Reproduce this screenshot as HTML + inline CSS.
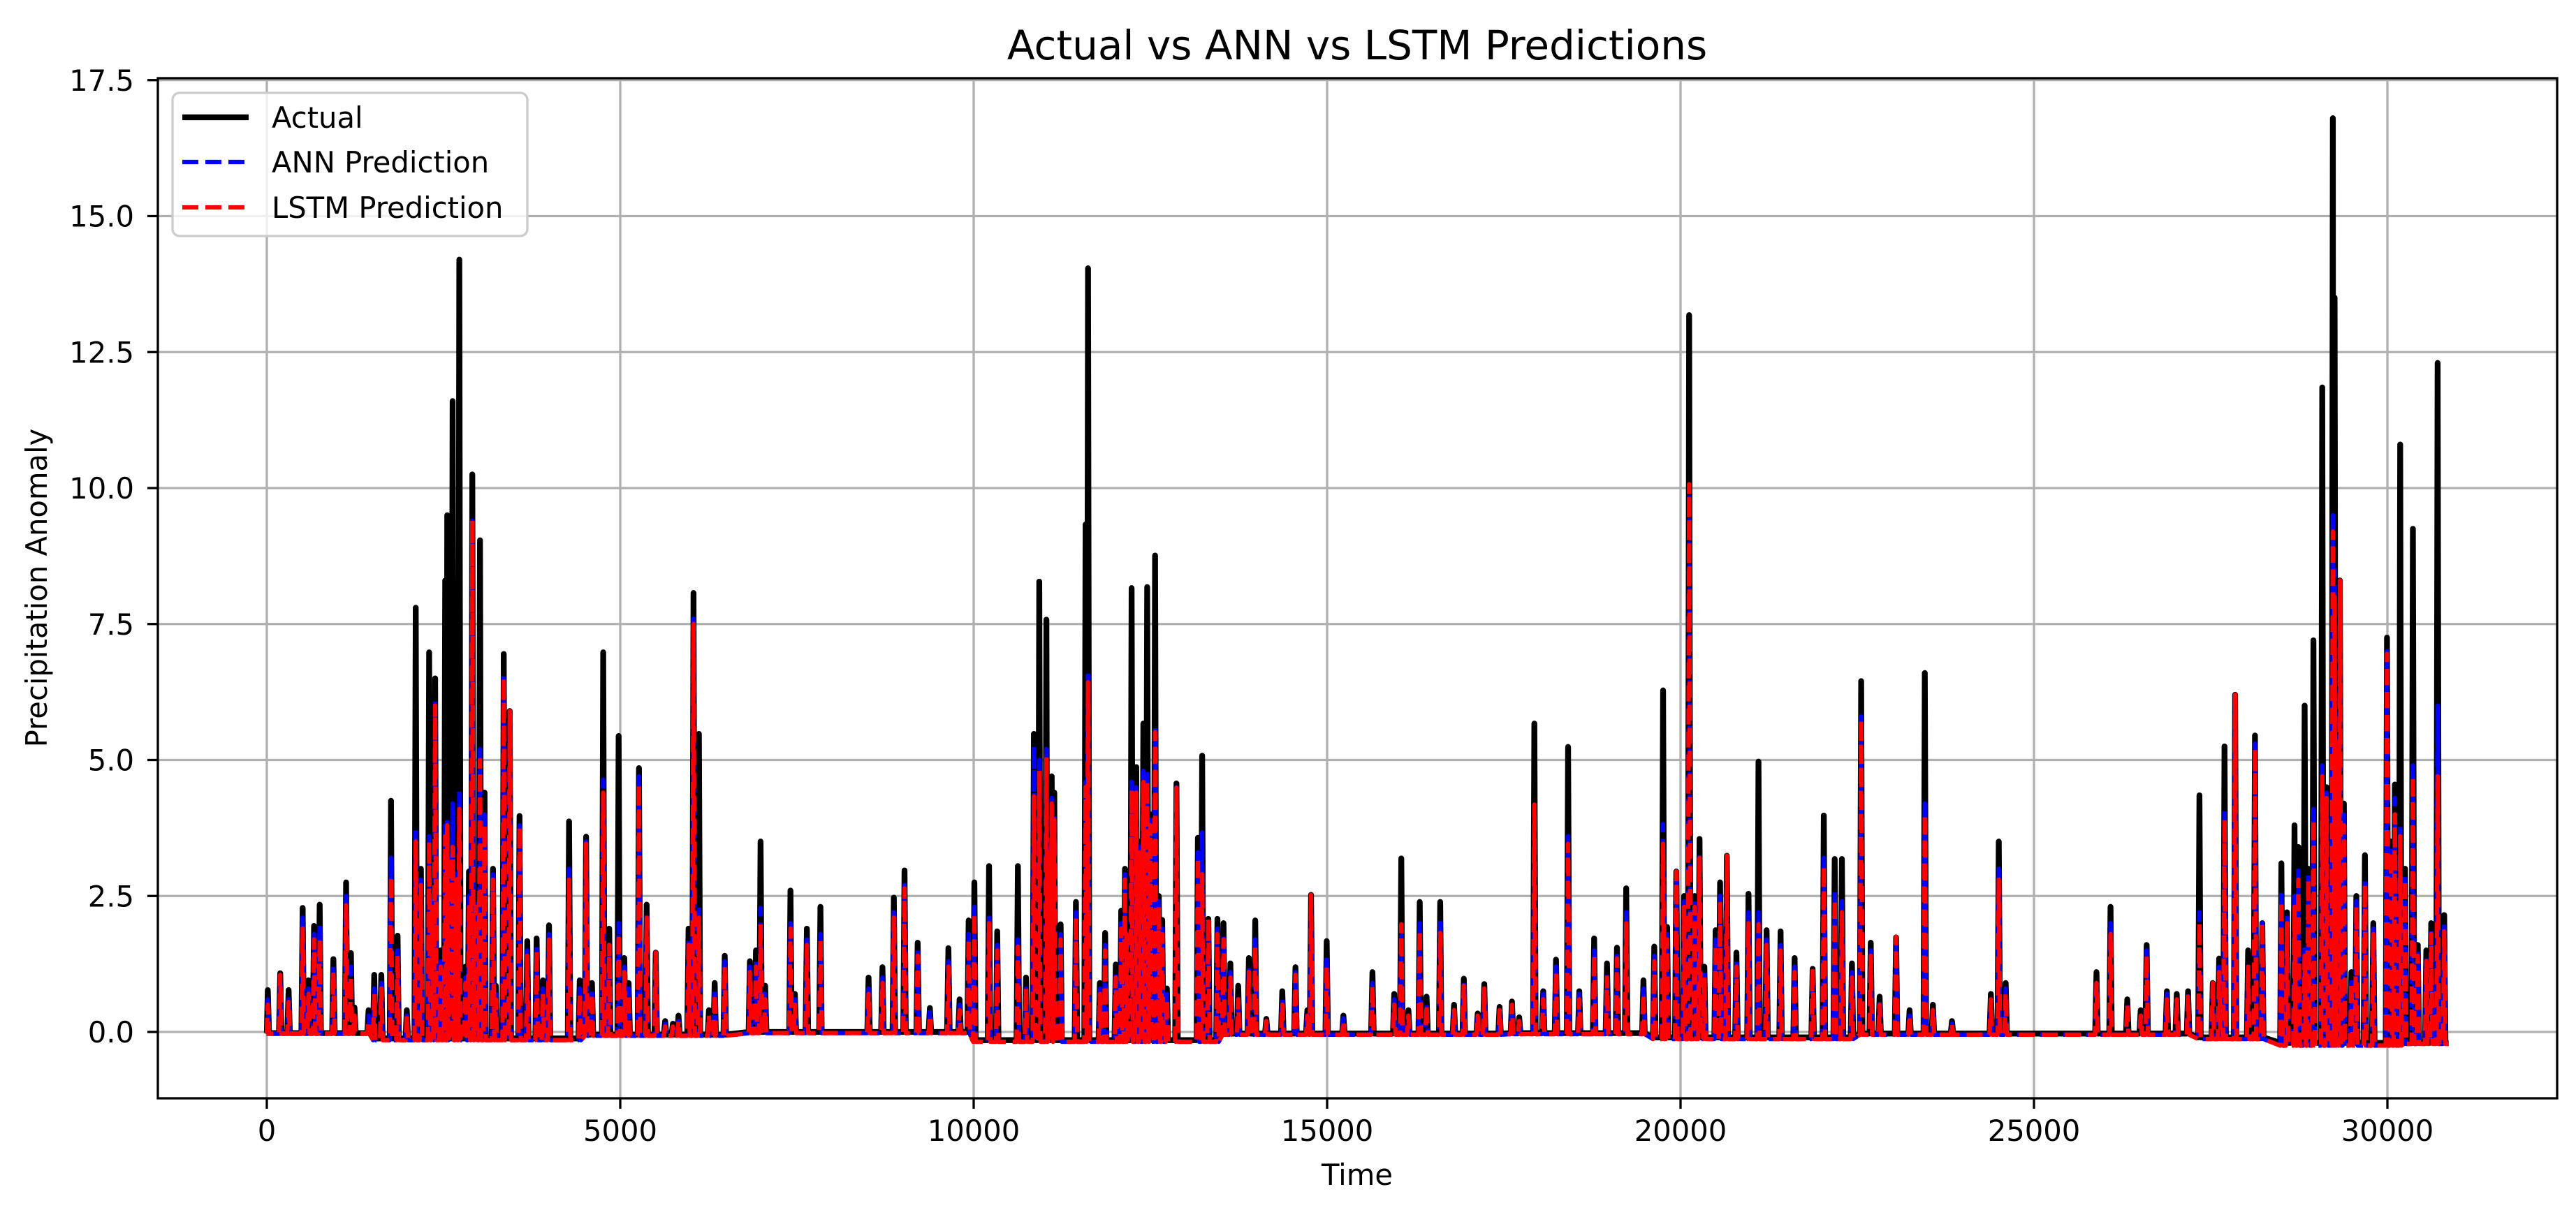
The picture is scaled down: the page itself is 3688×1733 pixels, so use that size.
<!DOCTYPE html>
<html><head><meta charset="utf-8"><style>
html,body{margin:0;padding:0;background:#fff;}
svg{display:block;font-family:"DejaVu Sans","Liberation Sans",sans-serif;}
</style></head><body>
<svg id="chart" width="3688" height="1733" viewBox="0 0 3688 1733" xmlns="http://www.w3.org/2000/svg">
<rect width="3688" height="1733" fill="#fff"/>
<defs><clipPath id="plotclip"><rect x="226" y="112" width="3435" height="1461"/></clipPath></defs>
<g id="grid"></g>
<g id="series" clip-path="url(#plotclip)"></g>
<rect x="226" y="112" width="3435" height="1461" fill="none" stroke="#000" stroke-width="3.3"/>
<g id="ticks"></g>
<text x="1943" y="85" font-size="58" text-anchor="middle">Actual vs ANN vs LSTM Predictions</text>
<text x="1943" y="1697" font-size="41.7" text-anchor="middle">Time</text>
<text x="0" y="0" font-size="41.7" text-anchor="middle" transform="translate(67,842) rotate(-90)">Precipitation Anomaly</text>
<g>
<rect x="247" y="133" width="508" height="205" rx="10" fill="#fff" fill-opacity="0.8" stroke="#ccc" stroke-width="3.3"/>
<line x1="261" y1="168" x2="356" y2="168" stroke="#000" stroke-width="8.3"/>
<text x="389" y="183" font-size="41.7">Actual</text>
<line x1="261" y1="232" x2="356" y2="232" stroke="#0000ff" stroke-width="6.25" stroke-dasharray="23 10"/>
<text x="389" y="247" font-size="41.7">ANN Prediction</text>
<line x1="261" y1="297" x2="356" y2="297" stroke="#ff0000" stroke-width="6.25" stroke-dasharray="23 10"/>
<text x="389" y="312" font-size="41.7">LSTM Prediction</text>
</g>
</svg>
<script>
// Peak events: time, actual, ANN, LSTM
const peakTimes = [14,190,308,507,590,668,748,942,1122,1190,1240,1440,1520,1620,1757,1850,1980,2107,2180,2296,2340,2381,2460,2524,2552,2580,2628,2680,2723,2810,2860,2907,2960,3016,3080,3200,3240,3352,3437,3575,3685,3817,3907,3992,4276,4427,4517,4600,4759,4844,4977,5057,5119,5265,5374,5502,5635,5744,5824,5966,6037,6113,6255,6336,6478,6834,6920,6985,7050,7408,7470,7640,7832,8513,8709,8871,9022,9208,9380,9642,9800,9929,10010,10217,10333,10625,10740,10852,10928,11029,11060,11104,11140,11230,11447,11583,11618,11785,11860,12010,12087,12140,12162,12234,12300,12350,12400,12455,12500,12566,12620,12667,12733,12869,13172,13232,13320,13449,13535,13631,13742,13893,13983,14140,14366,14552,14720,14773,14994,15230,15641,15950,16049,16150,16310,16407,16600,16795,16934,17130,17223,17440,17615,17717,17932,18057,18238,18409,18567,18778,18959,19101,19231,19475,19628,19753,19810,19940,20050,20122,20200,20269,20337,20496,20559,20655,20791,20961,21103,21217,21415,21614,21869,22027,22181,22283,22425,22555,22691,22816,23049,23240,23456,23570,23840,24390,24502,24600,25884,26083,26320,26510,26594,26880,27020,27180,27341,27530,27620,27696,27846,28030,28126,28230,28500,28580,28686,28740,28829,28880,28954,29078,29140,29228,29253,29290,29328,29384,29490,29560,29682,29800,29994,30050,30106,30181,30250,30361,30430,30550,30620,30710,30803];
const actualValues = [0.77,1.08,0.77,2.28,0.95,1.95,2.34,1.34,2.75,1.45,0.45,0.4,1.05,1.05,4.25,1.77,0.4,7.8,3.0,6.98,2.5,6.5,1.5,8.3,9.5,3.5,11.6,3.0,14.2,1.2,2.95,10.25,2.5,9.04,4.4,3.0,0.85,6.95,5.9,3.97,1.67,1.72,0.95,1.96,3.87,0.95,3.59,0.9,6.98,1.9,5.44,1.36,0.9,4.85,2.34,1.46,0.2,0.15,0.3,1.9,8.07,5.48,0.4,0.9,1.4,1.3,1.5,3.5,0.85,2.6,0.7,1.9,2.3,1.0,1.19,2.47,2.97,1.64,0.44,1.54,0.6,2.05,2.75,3.05,1.85,3.05,1.0,5.48,8.28,7.58,3.5,4.7,4.4,1.98,2.39,9.33,14.04,0.9,1.82,1.24,2.23,3.0,2.1,8.16,4.87,3.5,5.67,8.18,4.0,8.76,2.5,2.06,0.8,4.57,3.57,5.08,2.08,2.08,2.0,1.26,0.85,1.36,2.05,0.24,0.75,1.19,0.4,2.52,1.67,0.3,1.1,0.7,3.19,0.4,2.39,0.65,2.39,0.5,0.98,0.34,0.88,0.46,0.56,0.27,5.67,0.75,1.33,5.24,0.75,1.72,1.26,1.55,2.64,0.95,1.57,6.28,1.93,2.95,2.5,13.18,2.5,3.55,1.2,1.87,2.75,3.24,1.46,2.54,4.97,1.87,1.85,1.36,1.16,3.98,3.18,3.18,1.26,6.45,1.64,0.65,1.74,0.4,6.6,0.5,0.2,0.7,3.5,0.9,1.1,2.3,0.6,0.4,1.6,0.75,0.7,0.75,4.35,0.9,1.35,5.25,6.2,1.5,5.45,2.0,3.1,2.2,3.8,3.4,6.0,3.0,7.2,11.85,4.5,16.8,13.5,5.5,8.3,4.2,1.1,2.5,3.25,2.0,7.25,3.5,4.55,10.8,3.0,9.25,1.6,1.5,2.0,12.3,2.15];
const annValues = [0.6,1.0,0.6,2.1,0.8,1.8,2.0,1.2,2.5,1.2,0.3,0.3,0.8,0.9,3.2,1.5,0.3,3.77,2.8,3.6,2.4,6.1,1.3,3.8,3.9,3.3,4.2,2.9,4.45,1.0,2.5,9.4,2.4,5.2,4.0,2.9,0.7,6.6,5.9,3.8,1.5,1.6,0.8,1.8,3.0,0.8,3.5,0.8,4.64,1.7,2.0,1.2,0.8,4.7,2.2,1.4,0.15,0.1,0.2,1.7,7.6,2.3,0.3,0.8,1.3,1.2,1.3,2.28,0.7,2.0,0.6,1.7,1.8,0.8,1.0,2.2,2.7,1.5,0.4,1.3,0.5,1.8,2.3,2.1,1.6,1.7,0.8,5.25,5.0,5.2,3.4,4.3,4.0,1.8,2.2,4.6,6.6,0.8,1.6,1.1,2.0,2.9,1.9,4.6,4.5,3.4,4.8,4.8,3.9,5.6,2.4,1.9,0.7,4.5,3.3,3.67,2.0,1.9,1.8,1.1,0.7,1.2,1.7,0.2,0.6,1.1,0.35,2.5,1.4,0.25,0.9,0.6,1.77,0.3,2.0,0.5,2.08,0.4,0.9,0.3,0.8,0.4,0.5,0.2,3.82,0.7,1.2,3.6,0.7,1.5,1.1,1.4,2.2,0.8,1.4,3.82,1.8,2.8,2.4,9.9,2.4,3.3,1.1,1.7,2.5,3.2,1.3,2.2,2.2,1.7,1.6,1.2,1.1,3.2,2.6,2.4,1.1,5.8,1.5,0.6,1.7,0.3,4.2,0.4,0.15,0.6,3.0,0.8,0.9,2.0,0.5,0.3,1.5,0.7,0.6,0.7,2.2,0.9,1.2,4.1,6.2,1.3,5.3,2.0,2.6,2.1,2.5,3.0,1.6,2.9,4.1,4.9,4.4,9.5,8.5,5.3,8.3,4.0,1.0,2.4,2.8,1.9,7.0,3.4,4.3,3.8,2.9,4.9,1.5,1.4,1.9,6.0,2.0];
const lstmValues = [0.5,1.05,0.55,1.9,0.7,1.7,1.7,1.1,2.33,1.0,0.3,0.2,0.7,0.8,2.85,1.4,0.3,3.5,2.7,3.5,2.3,6.0,1.2,3.6,3.8,3.2,3.4,2.8,4.1,0.9,2.3,9.4,2.3,5.0,3.8,2.8,0.6,6.5,5.9,3.77,1.4,1.5,0.7,1.7,2.8,0.7,3.46,0.7,4.4,1.6,1.8,1.1,0.7,4.55,2.1,1.46,0.1,0.1,0.2,1.6,7.5,2.1,0.3,0.7,1.2,1.1,1.2,1.98,0.6,1.9,0.5,1.6,1.7,0.7,0.9,2.1,2.64,1.4,0.3,1.2,0.4,1.7,2.18,2.0,1.5,1.57,0.8,4.33,4.8,5.05,3.3,4.2,3.9,1.7,2.1,4.5,6.43,0.7,1.5,1.0,1.9,2.8,1.8,4.44,4.4,3.3,4.6,4.6,3.8,5.51,2.3,1.8,0.6,4.49,3.2,2.9,2.08,1.8,1.7,1.0,0.6,1.1,1.57,0.2,0.5,1.05,0.3,2.52,1.2,0.2,0.85,0.5,1.98,0.3,1.87,0.5,1.82,0.4,0.85,0.3,0.8,0.4,0.5,0.2,4.18,0.6,1.1,3.46,0.6,1.41,1.0,1.35,2.0,0.7,1.3,3.46,1.7,2.95,2.3,10.07,2.3,3.2,1.0,1.6,2.4,3.24,1.2,2.0,1.98,1.6,1.5,1.1,1.16,3.05,2.44,2.2,1.0,5.74,1.4,0.5,1.75,0.3,4.0,0.4,0.15,0.6,2.8,0.7,0.9,1.8,0.5,0.3,1.4,0.6,0.6,0.65,2.0,0.9,1.1,3.9,6.2,1.2,5.2,2.0,2.4,2.0,2.3,2.8,1.4,2.8,3.9,4.7,4.3,9.2,8.0,5.2,8.3,3.8,0.9,2.3,2.7,1.8,6.95,3.3,4.0,3.6,2.8,4.7,1.4,1.3,1.8,4.7,1.85];
// Baseline level between events, by region (start times and levels)
const baseStarts = [0,1500,4500,6500,10000,13500,17500,19500,22500,24000,27200,28400,30200];
const baseActual = [-0.02,-0.12,-0.05,0.0,-0.15,-0.03,-0.02,-0.1,-0.03,-0.03,-0.1,-0.2,-0.2];
const basePred = [-0.03,-0.15,-0.07,-0.02,-0.18,-0.05,-0.04,-0.13,-0.05,-0.05,-0.13,-0.25,-0.22];
const endTime = 30866;
const xTicks = [0,5000,10000,15000,20000,25000,30000];
const yTicks = [0,2.5,5,7.5,10,12.5,15,17.5];
const yTickLabels = ["0.0","2.5","5.0","7.5","10.0","12.5","15.0","17.5"];

const NS = "http://www.w3.org/2000/svg";
const X0 = 382, XS = (3418 - 382) / 30000;
const Y0 = 1478, YS = 77.9;
function xScale(t){ return X0 + t * XS; }
function yScale(v){ return Y0 - v * YS; }
function baseAt(arr, t){ let v = arr[0]; for (let i = 0; i < baseStarts.length; i++) if (t >= baseStarts[i]) v = arr[i]; return v; }

const grid = document.getElementById('grid');
const ticks = document.getElementById('ticks');
xTicks.forEach((t) => {
  const x = xScale(t);
  const gl = document.createElementNS(NS, 'line');
  gl.setAttribute('x1', x); gl.setAttribute('x2', x); gl.setAttribute('y1', 112); gl.setAttribute('y2', 1573);
  gl.setAttribute('stroke', '#b0b0b0'); gl.setAttribute('stroke-width', 3.3);
  
  
  grid.appendChild(gl);
  const tk = document.createElementNS(NS, 'line');
  tk.setAttribute('x1', x); tk.setAttribute('x2', x); tk.setAttribute('y1', 1573); tk.setAttribute('y2', 1588);
  tk.setAttribute('stroke', '#000'); tk.setAttribute('stroke-width', 3.3);
  
  
  ticks.appendChild(tk);
  const tx = document.createElementNS(NS, 'text');
  tx.setAttribute('x', x); tx.setAttribute('y', 1634); tx.setAttribute('font-size', 41.7); tx.setAttribute('text-anchor', 'middle');
  tx.textContent = String(t);
  
  
  ticks.appendChild(tx);
});
yTicks.forEach((v, i) => {
  const y = yScale(v);
  const gl = document.createElementNS(NS, 'line');
  gl.setAttribute('x1', 226); gl.setAttribute('x2', 3661); gl.setAttribute('y1', y); gl.setAttribute('y2', y);
  gl.setAttribute('stroke', '#b0b0b0'); gl.setAttribute('stroke-width', 3.3);
  
  
  grid.appendChild(gl);
  const tk = document.createElementNS(NS, 'line');
  tk.setAttribute('x1', 211); tk.setAttribute('x2', 226); tk.setAttribute('y1', y); tk.setAttribute('y2', y);
  tk.setAttribute('stroke', '#000'); tk.setAttribute('stroke-width', 3.3);
  
  
  ticks.appendChild(tk);
  const tx = document.createElementNS(NS, 'text');
  tx.setAttribute('x', 192); tx.setAttribute('y', y + 15); tx.setAttribute('font-size', 41.7); tx.setAttribute('text-anchor', 'end');
  tx.textContent = yTickLabels[i];
  
  
  ticks.appendChild(tx);
});

function buildPoints(values, baseArr){
  const idx = peakTimes.map((t, i) => i).sort((a, b) => peakTimes[a] - peakTimes[b]);
  const pts = [[0, baseAt(baseArr, 0)]];
  const d = 18;
  idx.forEach((i) => {
    const t = peakTimes[i];
    pts.push([t - d, baseAt(baseArr, t)]);
    pts.push([t, values[i]]);
    pts.push([t + d, baseAt(baseArr, t)]);
  });
  pts.push([endTime, baseAt(baseArr, endTime)]);
  pts.sort((a, b) => a[0] - b[0]);
  return pts.map(p => xScale(p[0]).toFixed(1) + ',' + yScale(p[1]).toFixed(1)).join(' ');
}
const series = document.getElementById('series');
function addLine(values, baseArr, color, width, dash, name){
  const pl = document.createElementNS(NS, 'polyline');
  pl.setAttribute('points', buildPoints(values, baseArr));
  pl.setAttribute('fill', 'none');
  pl.setAttribute('stroke', color);
  pl.setAttribute('stroke-width', width);
  pl.setAttribute('stroke-linejoin', 'round');
  if (dash) pl.setAttribute('stroke-dasharray', dash);
  
  
  series.appendChild(pl);
}
addLine(actualValues, baseActual, '#000', 8.3, null, 'actual-line');
addLine(annValues, basePred, '#0000ff', 6.25, '23 10', 'ann-line');
addLine(lstmValues, basePred, '#ff0000', 6.25, '23 10', 'lstm-line');
</script>
</body></html>
